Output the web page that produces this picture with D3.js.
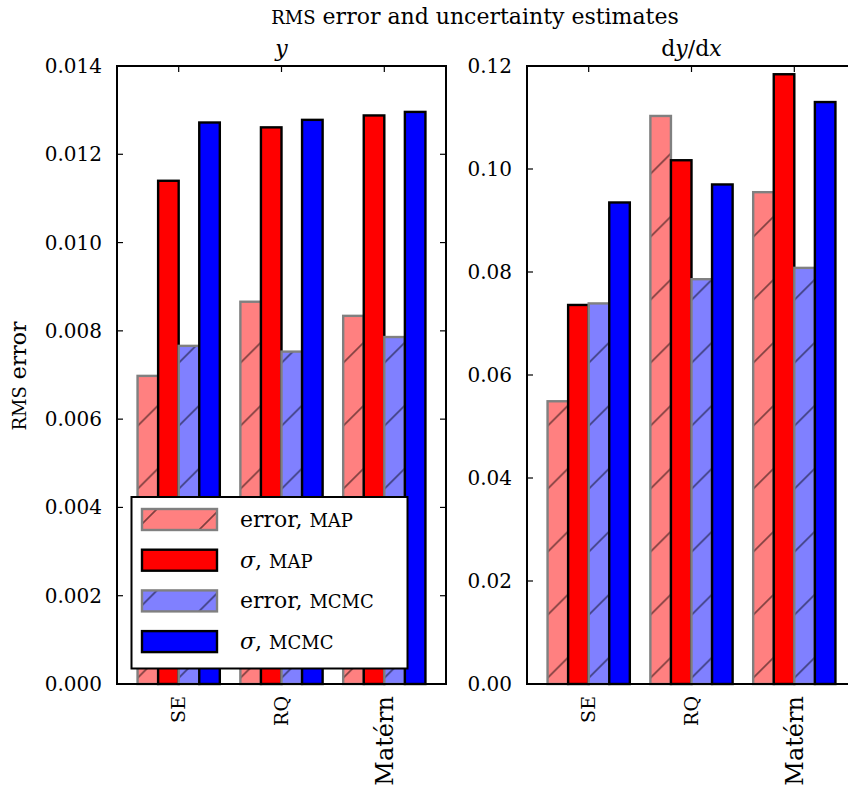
<!DOCTYPE html>
<html lang="en">
<head>
<meta charset="UTF-8">
<title>RMS error and uncertainty estimates</title>
<script src="https://d3js.org/d3.v7.min.js"></script>
<style>
    body { margin: 0; background: #fff; }
    svg text { font-family: "DejaVu Serif", "Liberation Serif", serif; fill: #000; }
</style>
</head>
<body>
<svg id="canvas" width="848" height="789"></svg>
<script>
    // chart data
    const categories = ["SE", "RQ", "Matérn"];
    const seriesNames = ["error, MAP", "σ, MAP", "error, MCMC", "σ, MCMC"];
    // panel y
    const errMapY = [0.00698, 0.00866, 0.00834];
    const sigMapY = [0.01140, 0.01261, 0.01288];
    const errMcmcY = [0.00766, 0.00753, 0.00786];
    const sigMcmcY = [0.01272, 0.01278, 0.01296];
    // panel dy/dx
    const errMapD = [0.0549, 0.1103, 0.0955];
    const sigMapD = [0.0736, 0.1017, 0.1184];
    const errMcmcD = [0.0739, 0.0786, 0.0808];
    const sigMcmcD = [0.0935, 0.0970, 0.1130];
    const yTicksY = [0, 0.002, 0.004, 0.006, 0.008, 0.010, 0.012, 0.014];
    const yTicksD = [0, 0.02, 0.04, 0.06, 0.08, 0.10, 0.12];

    // look of each series
    const styles = [
        {fill: "#ff8080", edge: "#808080", hatch: true},
        {fill: "#ff0000", edge: "#000000", hatch: false},
        {fill: "#8080ff", edge: "#808080", hatch: true},
        {fill: "#0000ff", edge: "#000000", hatch: false}
    ];

    let svg = d3.select("#canvas");
    let defs = svg.append("defs");

    // diagonal hatch, anchored at the bottom-left of each bar
    let pat = defs.append("pattern")
        .attr("id", "hatch")
        .attr("patternUnits", "userSpaceOnUse")
        .attr("x", -6).attr("y", 0)
        .attr("width", 63).attr("height", 63);
    pat.append("path")
        .attr("d", "M0,63L63,0M-4,4L4,-4M59,67L67,59")
        .attr("stroke", "#000")
        .attr("stroke-opacity", 0.5)
        .attr("stroke-width", 1.6);

    const plotTop = 66, plotBottom = 684;

    function drawPanel(x0, x1, ymax, ticks, fmt, series, subtitle) {
        let x = d3.scaleLinear().domain([-0.6, 2.6]).range([x0, x1]);
        let y = d3.scaleLinear().domain([0, ymax]).range([plotBottom, plotTop]);
        let g = svg.append("g");
        let barW = x(0.2) - x(0);

        series.forEach(function (vals, j) {
            let st = styles[j];
            vals.forEach(function (v, i) {
                let left = x(i + (j - 2) * 0.2);
                let h = plotBottom - y(v);
                let bar = g.append("g").attr("transform", "translate(" + left + "," + plotBottom + ")");
                bar.append("rect")
                    .attr("x", 0).attr("y", -h)
                    .attr("width", barW).attr("height", h)
                    .attr("fill", st.fill);
                if (st.hatch) {
                    bar.append("rect")
                        .attr("x", 0).attr("y", -h)
                        .attr("width", barW).attr("height", h)
                        .attr("fill", "url(#hatch)");
                }
                bar.append("rect")
                    .attr("x", 0).attr("y", -h)
                    .attr("width", barW).attr("height", h)
                    .attr("fill", "none")
                    .attr("stroke", st.edge)
                    .attr("stroke-width", 2.4);
            });
        });

        // inward ticks
        let tk = g.append("g").attr("stroke", "#000").attr("stroke-width", 1.2);
        ticks.forEach(function (t) {
            tk.append("line").attr("x1", x0).attr("x2", x0 + 6).attr("y1", y(t)).attr("y2", y(t));
            tk.append("line").attr("x1", x1).attr("x2", x1 - 6).attr("y1", y(t)).attr("y2", y(t));
        });
        categories.forEach(function (c, i) {
            tk.append("line").attr("x1", x(i)).attr("x2", x(i)).attr("y1", plotTop).attr("y2", plotTop + 6);
        });

        // frame
        g.append("rect")
            .attr("x", x0).attr("y", plotTop)
            .attr("width", x1 - x0).attr("height", plotBottom - plotTop)
            .attr("fill", "none")
            .attr("stroke", "#000")
            .attr("stroke-width", 2);

        // y tick labels
        g.selectAll(".ytl").data(ticks).enter().append("text")
            .attr("x", x0 - 15)
            .attr("y", function (d) { return y(d); })
            .attr("dy", "0.35em")
            .attr("text-anchor", "end")
            .attr("font-size", 20)
            .text(fmt);

        // category labels, rotated
        g.selectAll(".xtl").data(categories).enter().append("text")
            .attr("transform", function (d, i) { return "translate(" + x(i) + "," + (plotBottom + 12) + ") rotate(-90)"; })
            .attr("dy", "0.35em")
            .attr("text-anchor", "end")
            .attr("font-size", function (d) { return d === "Matérn" ? 24 : 19; })
            .text(function (d) { return d; });

        // subtitle
        let st = g.append("text")
            .attr("x", (x0 + x1) / 2)
            .attr("y", 56)
            .attr("text-anchor", "middle")
            .attr("font-size", 22);
        subtitle.forEach(function (p) {
            st.append("tspan").attr("font-style", p[1] ? "italic" : "normal").text(p[0]);
        });
    }

    drawPanel(117, 446, 0.014, yTicksY, d3.format(".3f"),
        [errMapY, sigMapY, errMcmcY, sigMcmcY], [["y", true]]);
    drawPanel(527, 856, 0.12, yTicksD, d3.format(".2f"),
        [errMapD, sigMapD, errMcmcD, sigMcmcD], [["d", false], ["y", true], ["/d", false], ["x", true]]);

    // title
    let title = svg.append("text")
        .attr("x", 475).attr("y", 24)
        .attr("text-anchor", "middle")
        .attr("font-size", 22);
    title.append("tspan").attr("font-size", 18).text("RMS");
    title.append("tspan").text(" error and uncertainty estimates");

    // y axis label
    let ylab = svg.append("text")
        .attr("transform", "translate(26,376) rotate(-90)")
        .attr("text-anchor", "middle")
        .attr("font-size", 22);
    ylab.append("tspan").attr("font-size", 18).text("RMS");
    ylab.append("tspan").text(" error");

    // legend
    let leg = svg.append("g");
    leg.append("rect")
        .attr("x", 131.5).attr("y", 497)
        .attr("width", 276).attr("height", 171.5)
        .attr("fill", "#fff")
        .attr("stroke", "#000")
        .attr("stroke-width", 2);
    seriesNames.forEach(function (name, j) {
        let st = styles[j];
        let rowTop = 509 + j * 40.7;
        let p = leg.append("g").attr("transform", "translate(142," + (rowTop + 21) + ")");
        p.append("rect").attr("x", 0).attr("y", -21).attr("width", 75).attr("height", 21).attr("fill", st.fill);
        if (st.hatch) {
            p.append("rect").attr("x", 0).attr("y", -21).attr("width", 75).attr("height", 21).attr("fill", "url(#hatch)");
        }
        p.append("rect").attr("x", 0).attr("y", -21).attr("width", 75).attr("height", 21)
            .attr("fill", "none").attr("stroke", st.edge).attr("stroke-width", 2.4);

        let parts = name.split(", ");
        let t = leg.append("text")
            .attr("x", 240).attr("y", rowTop + 18)
            .attr("font-size", 22);
        t.append("tspan").attr("font-style", parts[0] === "σ" ? "italic" : "normal").text(parts[0]);
        t.append("tspan").text(", ");
        t.append("tspan").attr("font-size", 18).text(parts[1]);
    });
</script>
</body>
</html>
